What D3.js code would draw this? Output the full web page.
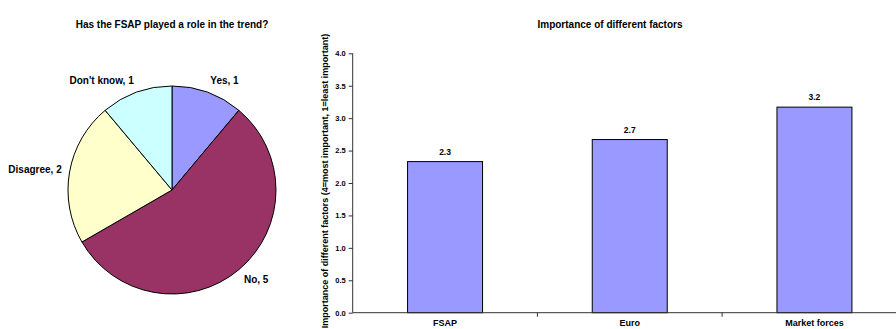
<!DOCTYPE html>
<html>
<head>
<meta charset="utf-8">
<script src="https://cdn.jsdelivr.net/npm/d3@7"></script>
<style>
  html, body { margin: 0; padding: 0; background: #fff; }
  svg { display: block; }
  text { font-family: "Liberation Sans", Arial, sans-serif; font-weight: bold; fill: #000; }
</style>
</head>
<body>
<svg id="chart" width="896" height="329"></svg>
<script>
// Survey answers: has the FSAP played a role in the trend?
const pieLabels = ["Yes", "No", "Disagree", "Don't know"];
const pieValues = [1, 5, 2, 1];
const pieColors = ["#9999FF", "#993366", "#FFFFCC", "#CCFFFF"];

// Average importance score per factor (4 = most important, 1 = least important)
const factorNames = ["FSAP", "Euro", "Market forces"];
const factorScores = [2.33, 2.67, 3.17];
const scoreTicks = [0, 0.5, 1, 1.5, 2, 2.5, 3, 3.5, 4];

const svg = d3.select("#chart");

// ---------- Pie chart ----------
const pieCx = 172, pieCy = 190, pieR = 104;
const pieG = svg.append("g").attr("transform", `translate(${pieCx},${pieCy})`);

svg.append("text")
  .attr("x", pieCx).attr("y", 27.5)
  .attr("text-anchor", "middle")
  .style("font-size", "10px")
  .text("Has the FSAP played a role in the trend?");

const pie = d3.pie().sort(null).value(d => d.value)(
  pieLabels.map((label, i) => ({ label, value: pieValues[i], color: pieColors[i] }))
);
const arc = d3.arc().innerRadius(0).outerRadius(pieR);

pieG.selectAll("path.slice")
  .data(pie)
  .join("path")
  .attr("class", "slice")
  .attr("d", arc)
  .attr("fill", d => d.data.color)
  .attr("stroke", "#000")
  .attr("stroke-width", 1);

// Outside labels: box placed just beyond the rim along each slice's mid-angle
const labelR = pieR + 8;
pieG.selectAll("text.plabel")
  .data(pie)
  .join("text")
  .attr("class", "plabel")
  .style("font-size", "10px")
  .attr("dy", "0.35em")
  .text(d => `${d.data.label}, ${d.data.value}`)
  .each(function (d) {
    const mid = (d.startAngle + d.endAngle) / 2;
    const s = Math.sin(mid), c = Math.cos(mid);
    const w = this.getComputedTextLength();
    const h = 10;
    const px = labelR * s, py = -labelR * c;
    const cxl = px + Math.sign(s) * w / 2;
    const cyl = py - c * h / 2;
    d3.select(this)
      .attr("x", cxl)
      .attr("y", cyl)
      .attr("text-anchor", "middle");
  });

// ---------- Bar chart ----------
const plotLeft = 352.7, plotTop = 53.3, plotBottom = 312.7, step = 184.7;

svg.append("text")
  .attr("x", 610).attr("y", 27.5)
  .attr("text-anchor", "middle")
  .style("font-size", "10px")
  .text("Importance of different factors");

const y = d3.scaleLinear().domain([0, 4]).range([plotBottom, plotTop]);
const x = d3.scaleBand()
  .domain(factorNames)
  .range([plotLeft, plotLeft + step * factorNames.length])
  .paddingInner(0).paddingOuter(0);
const barW = x.bandwidth() * 0.406;

const barG = svg.append("g");
barG.selectAll("rect")
  .data(factorNames.map((name, i) => ({ name, score: factorScores[i] })))
  .join("rect")
  .attr("x", d => x(d.name) + (x.bandwidth() - barW) / 2)
  .attr("y", d => y(d.score))
  .attr("width", barW)
  .attr("height", d => y(0) - y(d.score))
  .attr("fill", "#9999FF")
  .attr("stroke", "#000")
  .attr("stroke-width", 1);

barG.selectAll("text.val")
  .data(factorNames.map((name, i) => ({ name, score: factorScores[i] })))
  .join("text")
  .attr("class", "val")
  .attr("x", d => x(d.name) + x.bandwidth() / 2)
  .attr("y", d => y(d.score) - 7)
  .attr("text-anchor", "middle")
  .style("font-size", "8.5px")
  .text(d => d3.format(".1f")(d.score));

// Y axis
const yAxis = svg.append("g")
  .attr("transform", `translate(${plotLeft},0)`)
  .call(d3.axisLeft(y).tickValues(scoreTicks).tickFormat(d3.format(".1f")).tickSize(4).tickPadding(3));
yAxis.select(".domain").attr("stroke", "#333").attr("d", `M0,${plotTop}V${plotBottom}`);
yAxis.selectAll(".tick line").attr("stroke", "#333");
yAxis.selectAll(".tick text")
  .style("font-size", "7.5px")
  .style("font-family", "'Liberation Sans', Arial, sans-serif")
  .style("font-weight", "bold");

// X axis: baseline with tick marks between categories
const xAxis = svg.append("g");
xAxis.append("line")
  .attr("x1", plotLeft).attr("x2", plotLeft + step * factorNames.length)
  .attr("y1", y(0)).attr("y2", y(0))
  .attr("stroke", "#333");
xAxis.selectAll("line.tk")
  .data(factorNames.slice(1))
  .join("line")
  .attr("class", "tk")
  .attr("x1", d => x(d)).attr("x2", d => x(d))
  .attr("y1", y(0)).attr("y2", y(0) + 4)
  .attr("stroke", "#333");
xAxis.selectAll("text")
  .data(factorNames)
  .join("text")
  .attr("x", d => x(d) + x.bandwidth() / 2)
  .attr("y", y(0) + 13.5)
  .attr("text-anchor", "middle")
  .style("font-size", "9px")
  .text(d => d);

// Y axis title
svg.append("text")
  .attr("transform", `translate(328,${(plotTop + plotBottom) / 2 - 2}) rotate(-90)`)
  .attr("text-anchor", "middle")
  .style("font-size", "9px")
  .text("Importance of different factors (4=most important, 1=least important)");
</script>
</body>
</html>
